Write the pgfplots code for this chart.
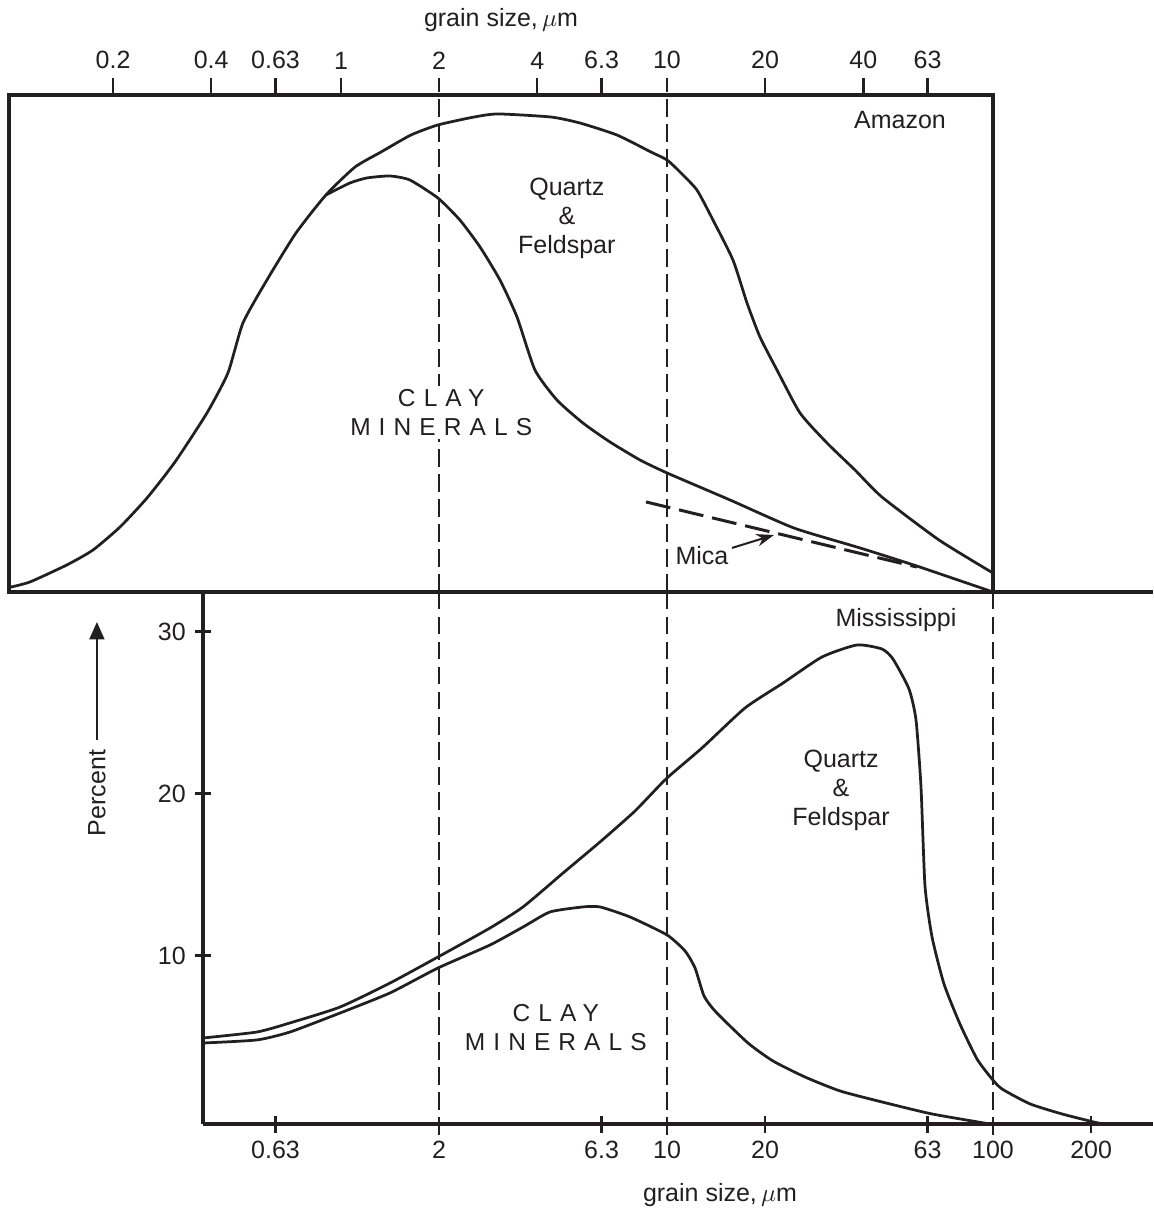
\documentclass[border=0pt]{standalone}
\usepackage{fontspec}
\setmainfont{Liberation Sans}
\newfontfamily\spaced[LetterSpace=33]{Liberation Sans}
\usepackage{pgfplots}
\pgfplotsset{compat=1.18}
\usetikzlibrary{arrows.meta}
\definecolor{ink}{HTML}{231F20}

\tikzset{
  myvdash/.style={ink, line width=0.8pt, dash pattern=on 7pt off 3pt},
}
\pgfplotsset{
  mycurve/.style={ink, line width=1.1pt, smooth, tension=0.35},
}

\begin{document}
\begin{tikzpicture}
% ---------------- Amazon (top) ----------------
\begin{axis}[
  scale only axis, xmode=log, clip=false,
  tick align=outside, major tick length=6.8pt,
  every tick/.style={ink, line width=1pt},
  every tick label/.append style={font=\normalsize, text=ink},
  at={(3.6pt,-236.8pt)}, anchor=south west,
  width=393.6pt, height=198.8pt,
  xmin=0.0959, xmax=100, ymin=0, ymax=30.68,
  axis line style={ink, line width=1.3pt},
  xtick pos=top, xticklabel pos=top,
  xtick={0.2,0.4,0.63,1,4,6.3,20,40,63},
  xticklabels={0.2,0.4,0.63,1,4,6.3,20,40,63},
  extra x ticks={2,10}, extra x tick labels={2,10},
  extra x tick style={tick style={draw=none}},
  ytick=\empty,
]
\draw[myvdash] (axis cs:2,0) -- ([yshift=6.8pt]axis cs:2,30.68);
\draw[myvdash] (axis cs:10,0) -- ([yshift=6.8pt]axis cs:10,30.68);
% Quartz & Feldspar (total) envelope
\addplot[mycurve] coordinates {
(0.0959,0.28) (0.1112,0.62) (0.1443,1.67) (0.1735,2.59) (0.2100,4.01)
(0.2541,5.80) (0.3096,8.02) (0.3882,11.05) (0.4501,13.52) (0.5004,16.60)
(0.5929,19.26) (0.7278,22.16) (0.8995,24.51) (1.104,26.23) (1.327,27.16)
(1.640,28.21) (1.984,28.83) (2.559,29.32) (3.031,29.51) (4.408,29.32)
(5.409,28.95) (7.024,28.21) (8.932,27.16) (10,26.67) (10.96,25.93)
(12.36,24.81) (13.84,22.96) (15.94,20.49) (17.60,17.84) (19.29,15.74)
(21.75,13.70) (25.59,11.05) (30.96,9.20) (37.73,7.53) (45.65,5.86)
(68.30,3.21) (100,1.17)};
% Clay minerals
\addplot[mycurve] coordinates {
(0.8995,24.51) (1.066,25.25) (1.202,25.56) (1.413,25.68) (1.628,25.43)
(1.984,24.32) (2.317,22.96) (2.670,21.30) (3.074,19.26) (3.467,16.98)
(3.937,13.70) (4.598,11.85) (5.525,10.43) (6.687,9.26) (8.265,8.15)
(10,7.35) (15.61,5.68) (24.52,3.95) (39.08,2.72) (58.45,1.60) (100,0)};
% Mica
\addplot[ink, line width=1.2pt, dash pattern=on 10pt off 3.6pt] coordinates {
(8.621,5.56) (58.45,1.54)};
\draw[ink, line width=0.8pt, -{Stealth[length=7pt,width=5pt]}]
  (axis cs:15.83,2.72) -- (axis cs:21.29,3.52);
\node[text=ink] at (axis cs:12.80,2.28) {Mica};
\node[text=ink] at (axis cs:51.84,29.14) {Amazon};
\node[text=ink, align=center, font=\fontsize{10}{11.6}\selectfont]
  at (axis cs:4.93,23.09) {Quartz\\\&\\Feldspar};
\node[text=ink, fill=white, inner sep=1.5pt, align=center, font=\spaced\fontsize{9.8}{11.6}\selectfont]
  at (axis cs:2.03,11.08) {CLAY\\MINERALS};
\node[text=ink] at (rel axis cs:0.5,1) [yshift=30pt] {grain size,$\,\mu$m};
\end{axis}

% ---------------- Mississippi (bottom) ----------------
\begin{axis}[
  scale only axis, xmode=log, clip=false,
  tick align=outside, major tick length=6.8pt,
  every tick/.style={ink, line width=1pt},
  every tick label/.append style={font=\normalsize, text=ink},
  at={(81.2pt,-449.6pt)}, anchor=south west,
  width=380pt, height=212.8pt,
  xmin=0.3774, xmax=309.6, ymin=-0.39, ymax=32.45,
  axis x line=bottom, axis y line=left,
  axis line style={ink, line width=1.3pt, -},
  xtick={0.63,6.3,20,63,200},
  xticklabels={0.63,6.3,20,63,200},
  extra x ticks={2,10,100}, extra x tick labels={2,10,100},
  extra x tick style={tick style={draw=none}},
  ytick={10,20,30}, yticklabels={10,20,30},
]
\draw[ink, line width=1.3pt] (rel axis cs:0,1) -- (rel axis cs:1,1);
\draw[myvdash] (axis cs:2,32.45) -- ([yshift=-6.8pt]axis cs:2,-0.39);
\draw[myvdash] (axis cs:10,32.45) -- ([yshift=-6.8pt]axis cs:10,-0.39);
\draw[myvdash] (axis cs:100,32.45) -- ([yshift=-6.8pt]axis cs:100,-0.39);
% Quartz & Feldspar (total) envelope
\addplot[mycurve] coordinates {
(0.3774,4.92) (0.5525,5.29) (0.6976,5.85) (0.9929,6.83) (1.413,8.31)
(1.984,9.92) (2.865,11.71) (3.617,13.01) (4.797,15.10) (6.230,17.02)
(7.976,18.93) (9.93,20.91) (12.80,22.82) (17.35,25.29) (22.69,26.83)
(29.89,28.44) (38.26,29.18) (45.65,28.93) (49.35,28.31) (55.25,26.46)
(58.05,24.55) (60.13,20.41) (61.85,14.30) (65.01,11.15) (70.74,8.25)
(79.19,5.78) (89.32,3.62) (99.3,2.39) (106.6,1.77) (129.9,0.85)
(162.8,0.23) (204.1,-0.27) (219.0,-0.39)};
% Clay minerals
\addplot[mycurve] coordinates {
(0.3774,4.61) (0.5525,4.80) (0.6976,5.29) (0.9929,6.46) (1.413,7.70)
(1.984,9.24) (2.865,10.66) (3.617,11.77) (4.377,12.70) (5.525,13.01)
(6.230,13.01) (7.701,12.39) (10,11.28) (11.36,10.29) (12.19,9.24)
(12.99,7.51) (14.13,6.52) (17.72,4.61) (21.14,3.50) (26.51,2.51)
(33.94,1.65) (45.65,0.97) (65.01,0.23) (98,-0.39)};
\node[text=ink] at (axis cs:50.41,30.72) {Mississippi};
\node[text=ink, align=center, font=\fontsize{10}{11.6}\selectfont]
  at (axis cs:34.19,20.23) {Quartz\\\&\\Feldspar};
\node[text=ink, align=center, font=\spaced\fontsize{9.8}{11.6}\selectfont]
  at (axis cs:4.56,5.54) {CLAY\\MINERALS};
\node[text=ink, rotate=90] at (axis cs:0.1784,20.04) {Percent};
\draw[ink, line width=0.8pt, -{Triangle[length=7pt,width=6pt]}]
  (axis cs:0.1784,23.31) -- (axis cs:0.1784,30.6);
\node[text=ink] at (axis cs:14.54,-4.77) {grain size,$\,\mu$m};
\end{axis}

\pgfresetboundingbox
\path[use as bounding box] (0,0) rectangle (461.2pt,-483.2pt);
\end{tikzpicture}
\end{document}
